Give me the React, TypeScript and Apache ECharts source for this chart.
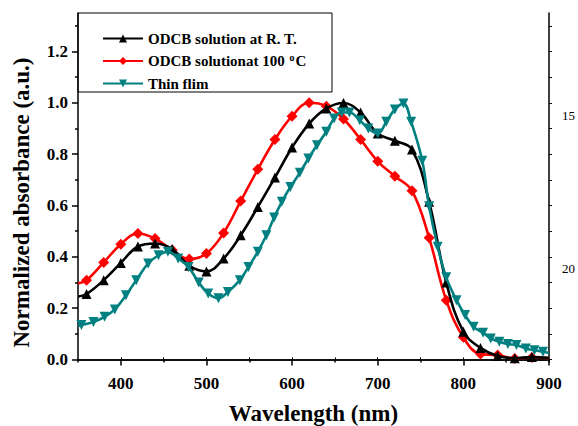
import React, { useEffect, useRef } from 'react';
import * as echarts from 'echarts';

const FONT = 'Liberation Serif';

const seriesNames = ['ODCB solution at R. T.', 'ODCB solutionat 100 oC', 'Thin flim'];

const rtX = [350, 360, 380, 400, 420, 440, 460, 480, 500, 520, 540, 560, 580, 600, 620, 640, 660, 680, 700, 720, 740, 760, 780, 800, 820, 840, 860, 880, 900];
const rtY = [0.245, 0.255, 0.309, 0.376, 0.44, 0.452, 0.43, 0.365, 0.343, 0.393, 0.484, 0.594, 0.709, 0.826, 0.919, 0.978, 0.999, 0.962, 0.88, 0.852, 0.818, 0.614, 0.3, 0.108, 0.045, 0.013, 0.005, 0.009, 0.005];

const hotX = [350, 360, 380, 400, 420, 440, 460, 480, 500, 520, 540, 560, 580, 600, 620, 640, 660, 680, 700, 720, 740, 760, 780, 800, 820, 840, 860, 880, 900];
const hotY = [0.296, 0.309, 0.378, 0.449, 0.491, 0.471, 0.426, 0.391, 0.413, 0.493, 0.617, 0.741, 0.857, 0.948, 1.0, 0.987, 0.937, 0.857, 0.772, 0.714, 0.657, 0.474, 0.231, 0.086, 0.021, 0.017, 0.004, 0.008, 0.005];

const filmX = [350, 354, 368, 381, 393, 406, 418, 432, 444, 455, 467, 479, 491, 502, 514, 525, 539, 549, 560, 570, 579, 588, 598, 609, 619, 629, 640, 649, 658, 667, 679, 689, 700, 710, 720, 730, 739, 752, 760, 770, 780, 792, 802, 812, 823, 832, 842, 852, 862, 873, 883, 893, 900];
const filmY = [0.13, 0.134, 0.146, 0.166, 0.195, 0.25, 0.309, 0.374, 0.406, 0.42, 0.393, 0.36, 0.3, 0.257, 0.238, 0.263, 0.309, 0.36, 0.42, 0.484, 0.553, 0.614, 0.672, 0.727, 0.783, 0.835, 0.887, 0.939, 0.962, 0.962, 0.932, 0.9, 0.88, 0.926, 0.974, 0.997, 0.926, 0.774, 0.597, 0.439, 0.32, 0.231, 0.173, 0.127, 0.104, 0.082, 0.069, 0.06, 0.056, 0.043, 0.036, 0.03, 0.025];

const noMarkerX = [350, 900];

const xMajorTicks = [400, 500, 600, 700, 800, 900];
const xMinorTicks = [450, 550, 650, 750, 850];
const xTopTicks = [400, 450, 500, 550, 600, 650, 700, 750, 800, 850];
const yMajorTicks = [0, 0.2, 0.4, 0.6, 0.8, 1.0, 1.2];
const yMinorTicks = [0.1, 0.3, 0.5, 0.7, 0.9, 1.1, 1.3];
const yRightTicks = [0, 0.1, 0.2, 0.3, 0.4, 0.5, 0.6, 0.7, 0.8, 0.9, 1.0, 1.1, 1.2, 1.3];
const rightLabels = [
  { text: '15', at: 0.95 },
  { text: '20', at: 0.355 },
];

const X_MIN = 350;
const X_MAX = 900;
const Y_MIN = -0.01;
const Y_MAX = 1.35;

function pts(xs: number[], ys: number[]) {
  return xs.map((x, i) =>
    noMarkerX.includes(x) ? { value: [x, ys[i]], symbol: 'none' } : [x, ys[i]]
  );
}

const axisLineStyle = { color: '#000', width: 1.5 };

export default function App() {
  const ref = useRef<HTMLDivElement>(null);
  useEffect(() => {
    const chart = echarts.init(ref.current!, null, { renderer: 'svg' });
    const gridTop = 13;
    const gridBottom = 64;
    const plotH = 426 - gridTop - gridBottom;
    const yPix = (v: number) => gridTop + ((Y_MAX - v) / (Y_MAX - Y_MIN)) * plotH;

    const hiddenX = (extra: any) => ({
      type: 'value',
      min: X_MIN,
      max: X_MAX,
      splitLine: { show: false },
      axisLabel: { show: false },
      ...extra,
    });
    const hiddenY = (extra: any) => ({
      type: 'value',
      min: Y_MIN,
      max: Y_MAX,
      splitLine: { show: false },
      axisLabel: { show: false },
      ...extra,
    });

    const option: any = {
      animation: false,
      backgroundColor: '#fff',
      textStyle: { fontFamily: FONT },
      grid: { left: 78, right: 29, top: gridTop, bottom: gridBottom, containLabel: false, outerBoundsMode: 'none' },
      legend: {
        orient: 'vertical',
        left: 97,
        top: 26,
        itemWidth: 40,
        itemHeight: 10,
        itemGap: 6,
        data: seriesNames,
        formatter: (name: string) =>
          name === seriesNames[1] ? '{t|ODCB solutionat 100 }{s|o}{t|C}' : '{t|' + name + '}',
        textStyle: {
          fontFamily: FONT,
          fontWeight: 'bold',
          fontSize: 15,
          color: '#000',
          rich: {
            t: { fontFamily: FONT, fontWeight: 'bold', fontSize: 15, color: '#000', lineHeight: 16 },
            s: { fontFamily: FONT, fontWeight: 'bold', fontSize: 10, color: '#000', padding: [0, 1, 8, 1], lineHeight: 16 },
          },
        },
      },
      xAxis: [
        {
          type: 'value',
          min: X_MIN,
          max: X_MAX,
          name: 'Wavelength (nm)',
          nameLocation: 'middle',
          nameGap: 40,
          nameTextStyle: { fontFamily: FONT, fontWeight: 'bold', fontSize: 23, color: '#000' },
          axisLine: { show: true, lineStyle: axisLineStyle },
          axisTick: { show: true, inside: false, length: 6, customValues: xMajorTicks, lineStyle: axisLineStyle },
          axisLabel: {
            customValues: xMajorTicks,
            margin: 13,
            fontFamily: FONT,
            fontWeight: 'bold',
            fontSize: 17,
            color: '#000',
          },
          splitLine: { show: false },
        },
        hiddenX({
          position: 'bottom',
          axisLine: { show: false },
          axisTick: { show: true, inside: false, length: 3, customValues: xMinorTicks, lineStyle: axisLineStyle },
        }),
        hiddenX({
          position: 'top',
          axisLine: { show: true, lineStyle: axisLineStyle },
          axisTick: { show: true, inside: false, length: 2, customValues: xTopTicks, lineStyle: { color: '#000', width: 1 } },
        }),
      ],
      yAxis: [
        {
          type: 'value',
          min: Y_MIN,
          max: Y_MAX,
          name: 'Normalized absorbance (a.u.)',
          nameLocation: 'middle',
          nameGap: 45,
          nameTextStyle: { fontFamily: FONT, fontWeight: 'bold', fontSize: 23, color: '#000', padding: [0, 30, 0, 0] },
          axisLine: { show: true, lineStyle: axisLineStyle },
          axisTick: { show: true, inside: false, length: 6, customValues: yMajorTicks, lineStyle: axisLineStyle },
          axisLabel: {
            customValues: yMajorTicks,
            formatter: (v: number) => v.toFixed(1),
            margin: 10,
            fontFamily: FONT,
            fontWeight: 'bold',
            fontSize: 17,
            color: '#000',
          },
          splitLine: { show: false },
        },
        hiddenY({
          position: 'left',
          axisLine: { show: false },
          axisTick: { show: true, inside: false, length: 3, customValues: yMinorTicks, lineStyle: axisLineStyle },
        }),
        hiddenY({
          position: 'right',
          axisLine: { show: true, lineStyle: axisLineStyle },
          axisTick: { show: true, inside: false, length: 3, customValues: yRightTicks, lineStyle: { color: '#000', width: 1 } },
        }),
      ],
      graphic: [
        {
          type: 'rect',
          shape: { x: 78, y: 13, width: 254, height: 79 },
          style: { fill: 'none', stroke: '#000', lineWidth: 1 },
          z: 10,
        },
        ...rightLabels.map((l) => ({
          type: 'text',
          x: 562,
          y: yPix(l.at),
          style: {
            text: l.text,
            fontFamily: FONT,
            fontSize: 13,
            fill: '#000',
            textAlign: 'left',
            textVerticalAlign: 'middle',
          },
        })),
      ],
      series: [
        {
          name: seriesNames[0],
          type: 'line',
          data: pts(rtX, rtY),
          smooth: 0.4,
          symbol: 'triangle',
          symbolSize: 10,
          color: '#000000',
          lineStyle: { width: 2.6, color: '#000000' },
          itemStyle: { color: '#000000' },
          z: 3,
        },
        {
          name: seriesNames[1],
          type: 'line',
          data: pts(hotX, hotY),
          smooth: 0.4,
          symbol: 'diamond',
          symbolSize: 11,
          color: '#ff0000',
          lineStyle: { width: 2.6, color: '#ff0000' },
          itemStyle: { color: '#ff0000' },
          z: 2,
        },
        {
          name: seriesNames[2],
          type: 'line',
          data: pts(filmX, filmY),
          smooth: 0.4,
          symbol: 'triangle',
          symbolRotate: 180,
          symbolSize: 10,
          color: '#008080',
          lineStyle: { width: 2.6, color: '#008080' },
          itemStyle: { color: '#008080' },
          z: 4,
        },
      ],
    };
    chart.setOption(option);
    return () => chart.dispose();
  }, []);
  return (
    <div
      ref={ref}
      style={{ position: 'fixed', left: 0, top: 0, width: 578, height: 426, background: '#fff' }}
    />
  );
}
